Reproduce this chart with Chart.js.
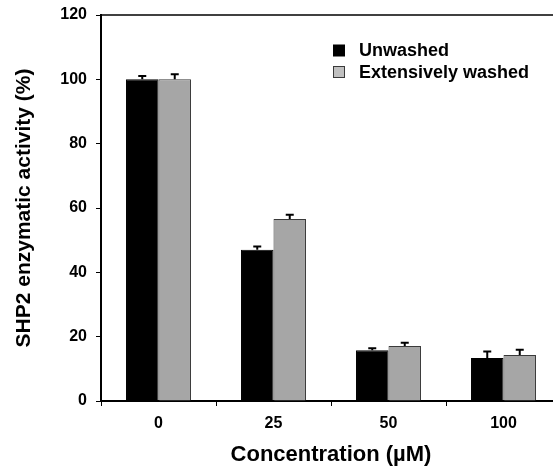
<!DOCTYPE html>
<html>
<head>
<meta charset="utf-8">
<script src="https://cdn.jsdelivr.net/npm/chart.js@4/dist/chart.umd.min.js"></script>
<style>
  html, body { margin: 0; padding: 0; overflow: hidden; background: #fff; }
  #wrap { width: 553px; height: 470px; overflow: hidden; }
</style>
</head>
<body>
<div id="wrap"><canvas id="chart" width="575" height="470"></canvas></div>
<script>
const concentrations = ['0', '25', '50', '100'];
const unwashed = [100, 47.0, 15.8, 13.4];
const unwashedErr = [1.0, 1.0, 0.6, 2.0];
const washed = [100, 56.6, 17.1, 14.3];
const washedErr = [1.6, 1.3, 1.0, 1.6];
const yTicks = [0, 20, 40, 60, 80, 100, 120];

const FONT = 'Liberation Sans, Arial, sans-serif';

// error bars (upper half only), top frame line and legend
const extras = {
  id: 'extras',
  afterDatasetsDraw(chart) {
    const ctx = chart.ctx;
    const y = chart.scales.y;
    const area = chart.chartArea;
    ctx.save();
    ctx.strokeStyle = '#000';
    ctx.lineWidth = 2;
    chart.data.datasets.forEach((ds, i) => {
      chart.getDatasetMeta(i).data.forEach((bar, j) => {
        const top = y.getPixelForValue(ds.data[j] + ds.err[j]);
        ctx.beginPath();
        ctx.moveTo(bar.x, bar.y);
        ctx.lineTo(bar.x, top);
        ctx.moveTo(bar.x - 4, top);
        ctx.lineTo(bar.x + 4, top);
        ctx.stroke();
      });
    });
    // top frame
    ctx.lineWidth = 1.5;
    ctx.beginPath();
    ctx.moveTo(area.left, area.top);
    ctx.lineTo(area.right + 20, area.top);
    ctx.stroke();
    // legend
    ctx.font = 'bold 18px ' + FONT;
    ctx.textBaseline = 'middle';
    ctx.textAlign = 'left';
    chart.data.datasets.forEach((ds, i) => {
      const cy = 50.5 + i * 21.5;
      ctx.fillStyle = ds.legendFill;
      ctx.fillRect(333.5, cy - 5.5, 11, 11);
      ctx.lineWidth = 1;
      ctx.strokeStyle = ds.borderColor;
      ctx.strokeRect(333.5, cy - 5.5, 11, 11);
      ctx.fillStyle = '#000';
      ctx.fillText(ds.label, 359, cy + 1);
    });
    ctx.restore();
  }
};

new Chart(document.getElementById('chart'), {
  type: 'bar',
  data: {
    labels: concentrations,
    datasets: [
      { label: 'Unwashed', data: unwashed, err: unwashedErr, backgroundColor: '#000', borderColor: '#000', borderWidth: 1, legendFill: '#000' },
      { label: 'Extensively washed', data: washed, err: washedErr, backgroundColor: '#a6a6a6', borderColor: '#3a3a3a', borderWidth: 1, legendFill: '#c0c0c0' }
    ]
  },
  options: {
    responsive: false,
    animation: false,
    layout: { padding: { top: 15, right: 14, left: 0, bottom: 0 } },
    datasets: { bar: { categoryPercentage: 0.565, barPercentage: 1.0 } },
    plugins: { legend: { display: false }, tooltip: { enabled: false } },
    scales: {
      x: {
        afterFit: s => { s.height = 69; s.paddingLeft = 0; s.paddingRight = 0; },
        grid: { drawOnChartArea: false, drawTicks: true, tickLength: 5, color: '#000', lineWidth: 1 },
        border: { color: '#000', width: 2 },
        ticks: { color: '#000', padding: 8, font: { family: FONT, size: 16, weight: 'bold' } },
        title: { display: true, text: 'Concentration (µM)', color: '#000', padding: { top: 0, bottom: 2 }, font: { family: FONT, size: 22, weight: 'bold', lineHeight: 1.2 } }
      },
      y: {
        min: 0, max: 120,
        afterFit: s => { s.width = 101; s.paddingTop = 0; s.paddingBottom = 0; },
        afterBuildTicks: s => { s.ticks = yTicks.map(v => ({ value: v })); },
        grid: { drawOnChartArea: false, drawTicks: true, tickLength: 5, color: '#000', lineWidth: 1 },
        border: { color: '#000', width: 2 },
        ticks: { color: '#000', padding: 9, font: { family: FONT, size: 16, weight: 'bold' } },
        title: { display: true, text: 'SHP2 enzymatic activity (%)', color: '#000', padding: { top: 12, bottom: 0 }, font: { family: FONT, size: 21, weight: 'bold', lineHeight: 1.2 } }
      }
    }
  },
  plugins: [extras]
});
</script>
</body>
</html>
